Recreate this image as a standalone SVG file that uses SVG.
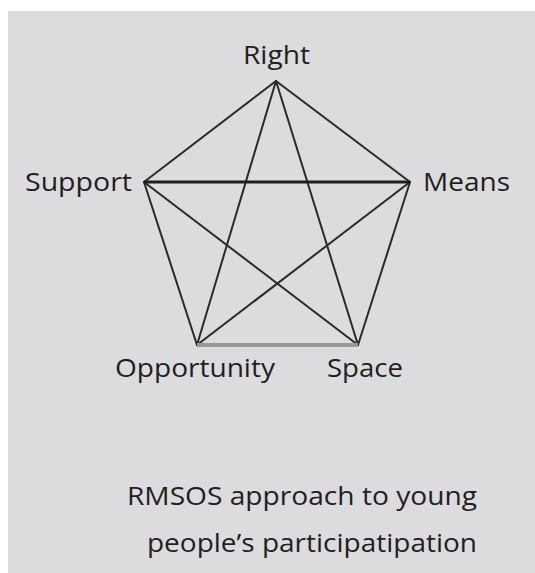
<svg xmlns="http://www.w3.org/2000/svg" width="535" height="573" viewBox="0 0 535 573">
<style>
.lbl{font-family:"Open Sans","Liberation Sans",sans-serif;font-size:26px;fill:#231f20}
.e{stroke:#2a2a2a;stroke-width:2;stroke-linecap:round}
</style>
<rect x="0" y="0" width="535" height="573" fill="#ffffff"/>
<rect x="8" y="11" width="527" height="562" fill="#dcdcde"/>
<g id="connectors" fill="none">
<line class="e" x1="276" y1="81" x2="144" y2="182"/>
<line class="e" x1="276" y1="81" x2="410" y2="182"/>
<line class="e" x1="276" y1="81" x2="197" y2="345"/>
<line class="e" x1="276" y1="81" x2="358" y2="345"/>
<line class="e" x1="144" y1="182" x2="197" y2="345"/>
<line class="e" x1="144" y1="182" x2="358" y2="345"/>
<line class="e" x1="410" y1="182" x2="197" y2="345"/>
<line class="e" x1="410" y1="182" x2="358" y2="345"/>
<line x1="144" y1="182" x2="410" y2="182" stroke="#1e1e1e" stroke-width="3"/>
<line x1="197" y1="345" x2="358" y2="345" stroke="#999999" stroke-width="4"/>
</g>
<g id="node-right"><text class="lbl" x="243" y="64" textLength="67" lengthAdjust="spacingAndGlyphs">Right</text></g>
<g id="node-support"><text class="lbl" x="25" y="191" textLength="107" lengthAdjust="spacingAndGlyphs">Support</text></g>
<g id="node-means"><text class="lbl" x="423" y="191" textLength="87" lengthAdjust="spacingAndGlyphs">Means</text></g>
<g id="node-opportunity"><text class="lbl" x="115" y="377" textLength="160" lengthAdjust="spacingAndGlyphs">Opportunity</text></g>
<g id="node-space"><text class="lbl" x="327" y="377" textLength="76" lengthAdjust="spacingAndGlyphs">Space</text></g>
<g id="caption">
<text class="lbl" x="127" y="505" textLength="350" lengthAdjust="spacingAndGlyphs">RMSOS approach to young</text>
<text class="lbl" x="147" y="552" textLength="330" lengthAdjust="spacingAndGlyphs">people’s participatipation</text>
</g>
</svg>
